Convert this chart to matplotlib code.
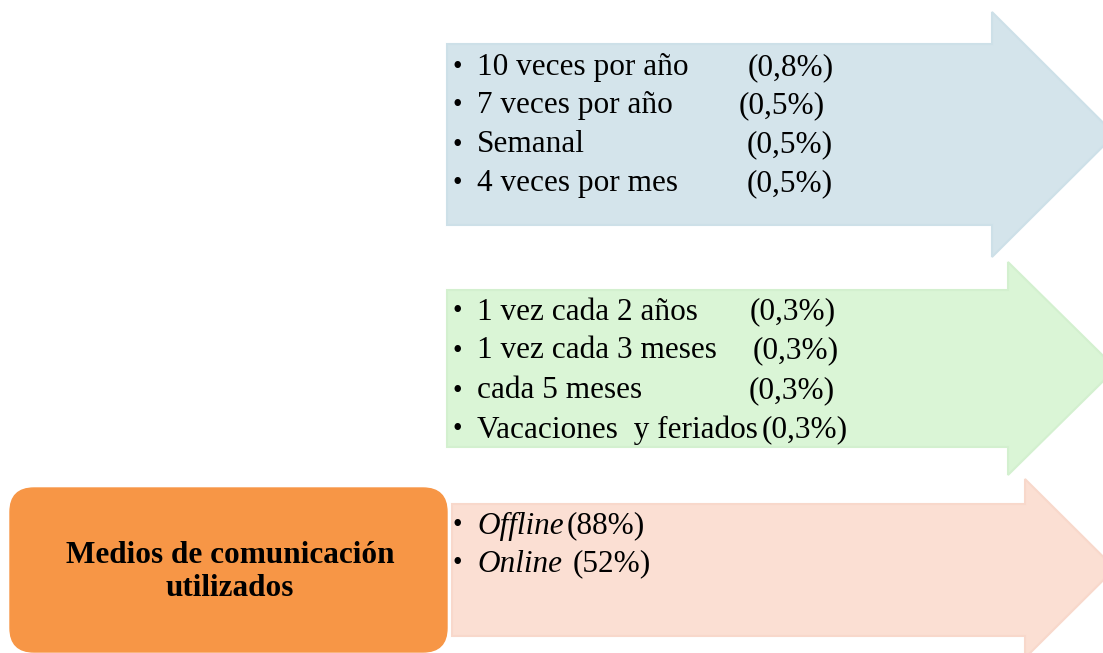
import matplotlib.pyplot as plt
from matplotlib.patches import Polygon, FancyBboxPatch

# Data
freq_alta = ['10 veces por año', '7 veces por año', 'Semanal', '4 veces por mes']
pct_alta = ['(0,8%)', '(0,5%)', '(0,5%)', '(0,5%)']
freq_baja = ['1 vez cada 2 años', '1 vez cada 3 meses', 'cada 5 meses', 'Vacaciones  y feriados']
pct_baja = ['(0,3%)', '(0,3%)', '(0,3%)', '(0,3%)']
medios = ['Offline', 'Online']
pct_medios = ['(88%)', '(52%)']
titulo = 'Medios de comunicación\nutilizados'

W, H = 1103, 653
fig = plt.figure(figsize=(W / 100, H / 100), dpi=100)
ax = fig.add_axes([0, 0, 1, 1])
ax.set_xlim(0, W)
ax.set_ylim(H, 0)
ax.axis('off')


def arrow(x0, top, bot, xh, htop, hbot, xtip, fc, ec):
    mid = (htop + hbot) / 2
    pts = [(x0, top), (xh, top), (xh, htop), (xtip, mid), (xh, hbot), (xh, bot), (x0, bot)]
    ax.add_patch(Polygon(pts, closed=True, fc=fc, ec=ec, lw=1.5, zorder=1))


arrow(447, 44, 225, 992, 12, 257, 1115, '#d4e4eb', '#cde0e8')
arrow(447, 290, 447, 1008, 262, 475, 1116, '#daf5d6', '#d3f0cf')
arrow(452, 504, 636, 1025, 479, 658, 1115, '#fbdfd3', '#f8d8cb')

ax.add_patch(FancyBboxPatch((10, 488), 437, 164, boxstyle='round,pad=0,rounding_size=24',
                            fc='#f79646', ec='#f79646', lw=1, zorder=2))
ax.text(230, 572, titulo, ha='center', va='center', fontsize=22.5, fontweight='bold',
        family='Liberation Serif', linespacing=1.15, zorder=3)

fs = 22.5
serif = 'Liberation Serif'


def lista(labels, pcts, ys, pct_x, italic=False):
    for lab, p, y, px in zip(labels, pcts, ys, pct_x):
        ax.text(453, y, '•', ha='left', va='center', fontsize=fs - 3, family=serif, zorder=3)
        ax.text(477, y, lab, ha='left', va='center', fontsize=fs, family=serif,
                style='italic' if italic else 'normal', zorder=3)
        ax.text(px, y, p, ha='left', va='center', fontsize=fs, family=serif, zorder=3)


lista(freq_alta, pct_alta, [68, 106, 145, 184], [748, 739, 747, 747])
lista(freq_baja, pct_baja, [312, 351, 391, 430], [750, 753, 749, 762])
lista(medios, pct_medios, [526, 564], [567, 573], italic=True)

fig.savefig('out.png', dpi=100)
